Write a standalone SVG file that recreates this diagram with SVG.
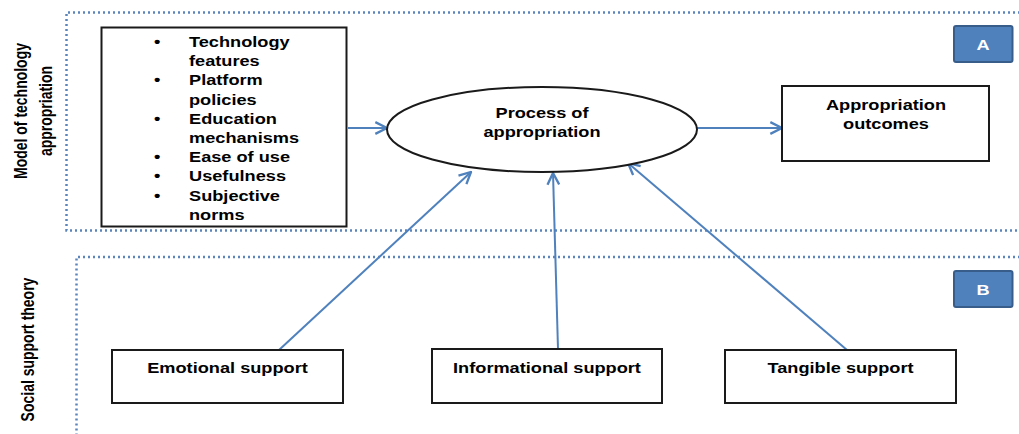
<svg xmlns="http://www.w3.org/2000/svg" width="1019" height="434" viewBox="0 0 1019 434">
  <style>
    .frame { fill: none; stroke: #5b84bd; stroke-width: 2.5; stroke-dasharray: 2 3; }
    .box { fill: #ffffff; stroke: #1a1a1a; stroke-width: 2; }
    .tag { fill: #4f81bd; stroke: #385d8a; stroke-width: 2; }
    .lbl { font-family: "Liberation Sans", Arial, sans-serif; font-weight: bold; font-size: 14px; fill: #000000; }
    .mid { text-anchor: middle; }
    .tagtxt { font-family: "Liberation Sans", Arial, sans-serif; font-weight: bold; font-size: 14px; fill: #ffffff; text-anchor: middle; }
    .conn { fill: none; stroke: #4f81bd; stroke-width: 2; marker-end: url(#open); }
  </style>
  <defs>
    <marker id="open" markerUnits="userSpaceOnUse" markerWidth="14" markerHeight="14" viewBox="0 0 12 12" refX="11" refY="6" orient="auto">
      <path d="M1,1 L11,6 L1,11" fill="none" stroke="#4f81bd" stroke-width="2"/>
    </marker>
  </defs>

  <rect width="1019" height="434" fill="#ffffff"/>

  <!-- section frames -->
  <g id="frame-a">
    <path class="frame" d="M1025,12.5 H66.5 V230.5 H1025"/>
    <text class="lbl mid" transform="matrix(0 -1 1.3 0 27 111)">Model of technology</text>
    <text class="lbl mid" transform="matrix(0 -1 1.3 0 52 111)">appropriation</text>
  </g>
  <g id="frame-b">
    <path class="frame" d="M1025,257 H76.5 V440"/>
    <text class="lbl mid" transform="matrix(0 -1 1.3 0 34 349.5)">Social support theory</text>
  </g>

  <!-- connectors -->
  <g id="connectors">
    <line class="conn" x1="348" y1="128" x2="387" y2="128"/>
    <line class="conn" x1="697" y1="128" x2="782" y2="128"/>
    <line class="conn" x1="279" y1="350" x2="471" y2="172"/>
    <line class="conn" x1="558" y1="349" x2="553" y2="173"/>
    <line class="conn" x1="847" y1="350" x2="628" y2="163"/>
  </g>

  <!-- antecedents list -->
  <g id="antecedents">
    <rect class="box" x="101.5" y="27.5" width="245" height="199"/>
    <g class="lbl">
      <text transform="matrix(1.3 0 0 1 154 47)">•</text>
      <text transform="matrix(1.3 0 0 1 189 47)">Technology</text>
      <text transform="matrix(1.3 0 0 1 189 66.2)">features</text>
      <text transform="matrix(1.3 0 0 1 154 85.4)">•</text>
      <text transform="matrix(1.3 0 0 1 189 85.4)">Platform</text>
      <text transform="matrix(1.3 0 0 1 189 104.6)">policies</text>
      <text transform="matrix(1.3 0 0 1 154 123.8)">•</text>
      <text transform="matrix(1.3 0 0 1 189 123.8)">Education</text>
      <text transform="matrix(1.3 0 0 1 189 143)">mechanisms</text>
      <text transform="matrix(1.3 0 0 1 154 162.2)">•</text>
      <text transform="matrix(1.3 0 0 1 189 162.2)">Ease of use</text>
      <text transform="matrix(1.3 0 0 1 154 181.4)">•</text>
      <text transform="matrix(1.3 0 0 1 189 181.4)">Usefulness</text>
      <text transform="matrix(1.3 0 0 1 154 200.6)">•</text>
      <text transform="matrix(1.3 0 0 1 189 200.6)">Subjective</text>
      <text transform="matrix(1.3 0 0 1 189 219.8)">norms</text>
    </g>
  </g>

  <!-- central process -->
  <g id="process">
    <ellipse cx="542" cy="129.5" rx="155" ry="42.5" fill="#ffffff" stroke="#1a1a1a" stroke-width="2"/>
    <text class="lbl mid" transform="matrix(1.3 0 0 1 542 118)">Process of</text>
    <text class="lbl mid" transform="matrix(1.3 0 0 1 542 137)">appropriation</text>
  </g>

  <!-- outcome -->
  <g id="outcomes">
    <rect class="box" x="782" y="86" width="207" height="75"/>
    <text class="lbl mid" transform="matrix(1.3 0 0 1 886 110)">Appropriation</text>
    <text class="lbl mid" transform="matrix(1.3 0 0 1 886 129)">outcomes</text>
  </g>

  <!-- section tags -->
  <g id="tag-a">
    <rect class="tag" x="954" y="26" width="58.5" height="36" rx="2"/>
    <text class="tagtxt" transform="matrix(1.3 0 0 1 983 49.5)">A</text>
  </g>
  <g id="tag-b">
    <rect class="tag" x="954" y="271" width="58.5" height="36" rx="2"/>
    <text class="tagtxt" transform="matrix(1.3 0 0 1 983 294.5)">B</text>
  </g>

  <!-- social support types -->
  <g id="emotional">
    <rect class="box" x="112" y="350" width="231" height="53"/>
    <text class="lbl mid" transform="matrix(1.3 0 0 1 227.5 373)">Emotional support</text>
  </g>
  <g id="informational">
    <rect class="box" x="432" y="349" width="230" height="54"/>
    <text class="lbl mid" transform="matrix(1.3 0 0 1 547 372.5)">Informational support</text>
  </g>
  <g id="tangible">
    <rect class="box" x="725" y="350" width="231" height="53"/>
    <text class="lbl mid" transform="matrix(1.3 0 0 1 840.5 373)">Tangible support</text>
  </g>
</svg>
